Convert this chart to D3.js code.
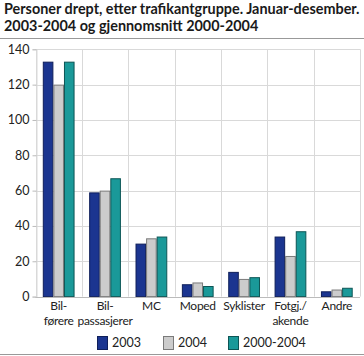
<!DOCTYPE html>
<html><head><meta charset="utf-8">
<script src="https://cdn.jsdelivr.net/npm/d3@7"></script>
<style>body{margin:0;background:#fff}svg{display:block}text{font-family:Lato,sans-serif}</style>
</head><body><svg id="c" width="364" height="356"></svg>
<script>
const categories = [["Bil-","førere"],["Bil-","passasjerer"],["MC"],["Moped"],["Syklister"],["Fotgj./","akende"],["Andre"]];
const seriesNames = ["2003","2004","2000-2004"];
const s2003 = [133,59,30,7,14,34,3];
const s2004 = [120,60,33,8,10,23,4];
const sAvg = [133,67,34,6,11,37,5];
const yTicks = [0,20,40,60,80,100,120,140];
const colors = ["#1b3590","#cccccc","#1a9999"];
const strokes = ["#0f1f5a","#7a7a7a","#0d5555"];
const series = [s2003,s2004,sAvg];

const svg = d3.select("#c");
const m = {l:35.5,r:360,t:49.3,b:296.6};
const x = d3.scaleBand().domain(d3.range(categories.length)).range([m.l,m.r]).paddingInner(0).paddingOuter(0);
const y = d3.scaleLinear().domain([0,140]).range([m.b,m.t]);
const xs = d3.scaleBand().domain(d3.range(3)).range([7.3, x.bandwidth()-7.3]);

const FS = 12.5;
// title
const title = svg.append("text").attr("x",4).attr("font-weight","bold").attr("font-size",14.4).attr("fill","#1a1a1a");
title.append("tspan").attr("x",4).attr("y",14).text("Personer drept, etter trafikantgruppe. Januar-desember.");
title.append("tspan").attr("x",4).attr("y",31).text("2003-2004 og gjennomsnitt 2000-2004");
svg.append("line").attr("x1",0).attr("x2",364).attr("y1",38.5).attr("y2",38.5).attr("stroke","#999").attr("stroke-width",1);
svg.append("line").attr("x1",0).attr("x2",364).attr("y1",354.5).attr("y2",354.5).attr("stroke","#999").attr("stroke-width",1);

// grid
svg.append("g").selectAll("line").data(yTicks).join("line")
  .attr("x1",m.l).attr("x2",m.r).attr("y1",d=>Math.round(y(d))+0.5).attr("y2",d=>Math.round(y(d))+0.5)
  .attr("stroke","#d9d9d9");
svg.append("g").selectAll("line").data(d3.range(categories.length+1)).join("line")
  .attr("x1",d=>Math.round(m.l+d*x.bandwidth())+0.5).attr("x2",d=>Math.round(m.l+d*x.bandwidth())+0.5)
  .attr("y1",m.t).attr("y2",m.b).attr("stroke","#d9d9d9");

// y axis
const ya = svg.append("g").attr("transform",`translate(${Math.round(m.l)+0.5},0)`)
  .call(d3.axisLeft(y).tickValues(yTicks).tickSize(4).tickPadding(3));
ya.select(".domain").attr("stroke","#d9d9d9");
ya.selectAll(".tick line").attr("stroke","#bbb");
ya.selectAll("text").attr("font-size",FS).attr("fill","#222").style("font-family","Lato,sans-serif");

// bars
const g = svg.append("g");
series.forEach((s,si)=>{
  g.selectAll(null).data(s).join("rect")
    .attr("x",(d,i)=>x(i)+xs(si)+0.5)
    .attr("y",d=>y(d)+0.5)
    .attr("width",xs.bandwidth()-1)
    .attr("height",d=>y(0)-y(d)-0.5)
    .attr("fill",colors[si]).attr("stroke",strokes[si]).attr("stroke-width",1);
});
svg.append("line").attr("x1",m.l).attr("x2",m.r).attr("y1",Math.round(y(0))+0.5).attr("y2",Math.round(y(0))+0.5).attr("stroke","#bbb");

// x labels
categories.forEach((lines,i)=>{
  const t = svg.append("text").attr("text-anchor","middle").attr("font-size",12).attr("letter-spacing",-0.3).attr("fill","#222");
  lines.forEach((ln,j)=>t.append("tspan").attr("x",x(i)+x.bandwidth()/2).attr("y",310+j*15).text(ln));
});

// legend
const lx = [97,163,228];
seriesNames.forEach((n,i)=>{
  svg.append("rect").attr("x",lx[i]+0.5).attr("y",336.5).attr("width",10).attr("height",13)
    .attr("fill",colors[i]).attr("stroke",strokes[i]);
  svg.append("text").attr("x",lx[i]+15).attr("y",347).attr("font-size",FS).attr("fill","#222").text(n);
});
</script></body></html>
